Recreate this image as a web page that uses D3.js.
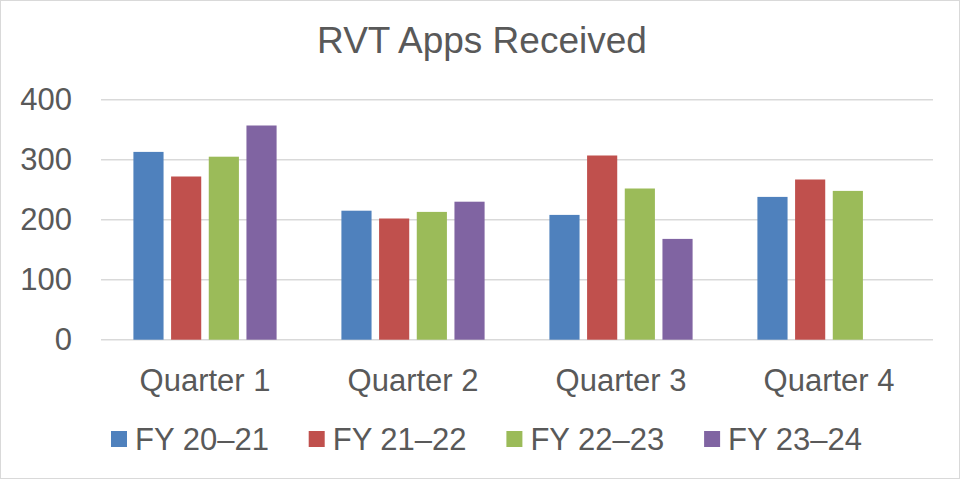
<!DOCTYPE html>
<html>
<head>
<meta charset="utf-8">
<script src="https://cdn.jsdelivr.net/npm/d3@7"></script>
<style>
  body { margin: 0; background: #fff; }
  svg { display: block; font-family: Arial, "Liberation Sans", sans-serif; }
</style>
</head>
<body>
<svg id="chart" width="961" height="480"></svg>
<script>
// Data
const quarters = ['Quarter 1', 'Quarter 2', 'Quarter 3', 'Quarter 4']
const seriesNames = ['FY 20–21', 'FY 21–22', 'FY 22–23', 'FY 23–24']
const fy2021 = [313, 215, 208, 238]
const fy2122 = [272, 202, 307, 267]
const fy2223 = [305, 213, 252, 248]
const fy2324 = [357, 230, 168, null]
const yTicks = [0, 100, 200, 300, 400]
const colors = ['#4F81BD', '#C0504D', '#9BBB59', '#8064A2']

const seriesValues = [fy2021, fy2122, fy2223, fy2324]

const svg = d3.select('#chart')
const textColor = '#595959'

// chart frame
svg.append('rect')
  .attr('x', 0.5).attr('y', 0.5)
  .attr('width', 959).attr('height', 478)
  .attr('fill', '#fff')
  .attr('stroke', '#d9d9d9')

// Scales
const x0 = d3.scaleBand()
  .domain(quarters)
  .range([101, 933])
  .padding(0)

const x1 = d3.scaleBand()
  .domain(seriesNames)
  .range([0, x0.bandwidth()])
  .paddingInner(0.2)
  .paddingOuter(0.86)

const y = d3.scaleLinear()
  .domain([0, 400])
  .range([339.7, 99.7])

// Gridlines
svg.append('g')
  .selectAll('line')
  .data(yTicks)
  .join('line')
  .attr('x1', 101)
  .attr('x2', 933)
  .attr('y1', d => y(d))
  .attr('y2', d => y(d))
  .attr('stroke', '#d9d9d9')
  .attr('stroke-width', 1.5)

// Y axis labels
const yAxis = d3.axisLeft(y).tickValues(yTicks).tickSize(0).tickPadding(0)
svg.append('g')
  .attr('transform', 'translate(72,0)')
  .call(yAxis)
  .call(g => g.select('.domain').remove())
  .selectAll('text')
  .attr('fill', textColor)
  .style('font-size', '31px')
  .style('font-family', 'Arial, "Liberation Sans", sans-serif')

// Bars
const rows = quarters.map((q, i) => ({
  quarter: q,
  values: seriesNames.map((s, j) => ({ series: s, value: seriesValues[j][i], color: colors[j] }))
}))

svg.append('g')
  .selectAll('g')
  .data(rows)
  .join('g')
  .attr('transform', d => `translate(${x0(d.quarter)},0)`)
  .selectAll('rect')
  .data(d => d.values.filter(v => v.value != null))
  .join('rect')
  .attr('x', d => x1(d.series))
  .attr('width', x1.bandwidth())
  .attr('y', d => y(d.value))
  .attr('height', d => y(0) - y(d.value))
  .attr('fill', d => d.color)

// X axis labels
const xAxis = d3.axisBottom(x0).tickSize(0).tickPadding(0)
svg.append('g')
  .attr('transform', 'translate(0,367)')
  .call(xAxis)
  .call(g => g.select('.domain').remove())
  .selectAll('text')
  .attr('fill', textColor)
  .attr('dy', '0.78em')
  .style('font-size', '31px')
  .style('font-family', 'Arial, "Liberation Sans", sans-serif')

// Title
svg.append('text')
  .attr('x', 482)
  .attr('y', 53)
  .attr('text-anchor', 'middle')
  .attr('fill', textColor)
  .style('font-size', '37px')
  .text('RVT Apps Received')

// Legend
const legend = svg.append('g')
  .selectAll('g')
  .data(seriesNames)
  .join('g')
  .attr('transform', (d, i) => `translate(${111 + i * 197.7},0)`)

legend.append('rect')
  .attr('x', 0)
  .attr('y', 431)
  .attr('width', 16)
  .attr('height', 16)
  .attr('fill', (d, i) => colors[i])

legend.append('text')
  .attr('x', 24)
  .attr('y', 450)
  .attr('fill', textColor)
  .style('font-size', '31px')
  .text(d => d)
</script>
</body>
</html>
